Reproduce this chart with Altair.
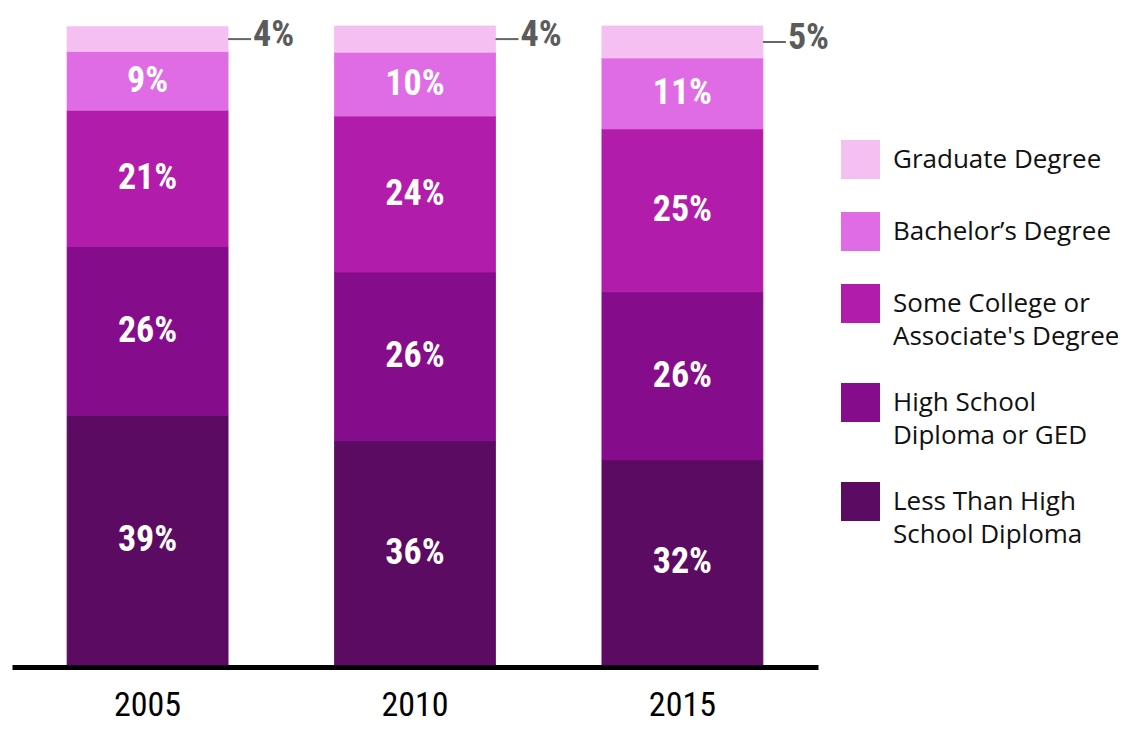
import altair as alt
import pandas as pd

years = ["2005", "2010", "2015"]

# bottom -> top
levels = [
    "Less Than High|School Diploma",
    "High School|Diploma or GED",
    "Some College or|Associate's Degree",
    "Bachelor’s Degree",
    "Graduate Degree",
]
colors = ["#5C0B62", "#850D8B", "#B21CAB", "#DF6CE4", "#F6BFF2"]

shares_2005 = [39.1, 26.4, 21.3, 9.2, 3.9]
shares_2010 = [35.1, 26.4, 24.4, 10.0, 4.1]
shares_2015 = [32.1, 26.3, 25.5, 11.1, 5.0]

labels_2005 = ["39%", "26%", "21%", "9%", "4%"]
labels_2010 = ["36%", "26%", "24%", "10%", "4%"]
labels_2015 = ["32%", "26%", "25%", "11%", "5%"]

shares = [shares_2005, shares_2010, shares_2015]
labels = [labels_2005, labels_2010, labels_2015]

rows = []
for yi, yr in enumerate(years):
    bottom = 0.0
    for li, lev in enumerate(levels):
        s = shares[yi][li]
        rows.append({
            "year": yr, "level": lev, "share": s,
            "bottom": bottom, "top": bottom + s, "mid": bottom + s / 2,
            "label": labels[yi][li], "idx": li,
        })
        bottom += s
df = pd.DataFrame(rows)

COND = "'Roboto Condensed', 'Liberation Sans Narrow', 'DejaVu Sans Condensed', Roboto, sans-serif"

x_enc = alt.X("year:N", title=None,
              scale=alt.Scale(paddingInner=0.398, paddingOuter=0.206),
              axis=alt.Axis(labelFont=COND, labelFontSize=34, labelAngle=0,
                            labelColor="#000", ticks=False, domainColor="#000",
                            domainWidth=5, offset=2, labelPadding=21,
                            labelBaseline="top"))
y_scale = alt.Scale(domain=[0, 100], nice=False, zero=True)
c_scale = alt.Scale(domain=levels[::-1], range=colors[::-1])

base = alt.Chart(df)

bars = base.mark_bar(strokeWidth=0.8).encode(
    x=x_enc,
    y=alt.Y("bottom:Q", scale=y_scale, axis=None),
    y2="top:Q",
    color=alt.Color(
        "level:N",
        scale=c_scale,
        legend=alt.Legend(
            title=None, orient="none", legendX=829, legendY=114,
            symbolType="square", symbolSize=1521, symbolStrokeWidth=0,
            symbolOpacity=1, labelFont="Open Sans", labelFontSize=26,
            labelColor="#111", labelOffset=13, rowPadding=33,
            labelExpr="split(datum.label, '|')", labelLimit=400,
            padding=0, labelBaseline="middle",
        ),
    ),
    stroke=alt.Stroke("level:N", scale=c_scale, legend=None),
)

inner = base.transform_filter(alt.datum.idx < 4).mark_text(
    font=COND, fontSize=36, fontWeight="bold", color="white", baseline="middle"
).encode(
    x="year:N",
    y=alt.Y("mid:Q", scale=y_scale),
    text="label:N",
)

top_rule = base.transform_filter(alt.datum.idx == 4).mark_rule(
    color="#666666", strokeWidth=2, x2Offset=23
).encode(
    x=alt.X("year:N", bandPosition=1),
    x2=alt.X2("year:N", bandPosition=1),
    y=alt.Y("mid:Q", scale=y_scale),
)

top_text = base.transform_filter(alt.datum.idx == 4).mark_text(
    font=COND, fontSize=36, fontWeight="bold", color="#5B5B5B",
    align="left", baseline="alphabetic", dx=25, dy=7
).encode(
    x=alt.X("year:N", bandPosition=1),
    y=alt.Y("mid:Q", scale=y_scale),
    text="label:N",
)

chart = alt.layer(bars, inner, top_rule, top_text).properties(
    width=806, height=639,
    autosize=alt.AutoSizeParams(type="none"),
    padding={"left": 4, "top": 18, "right": 300, "bottom": 57},
).configure(
    style={"guide-label": {"lineHeight": 33}}
).configure_view(stroke=None)

chart.save("out.html", embed_options={"renderer": "svg", "actions": False})
